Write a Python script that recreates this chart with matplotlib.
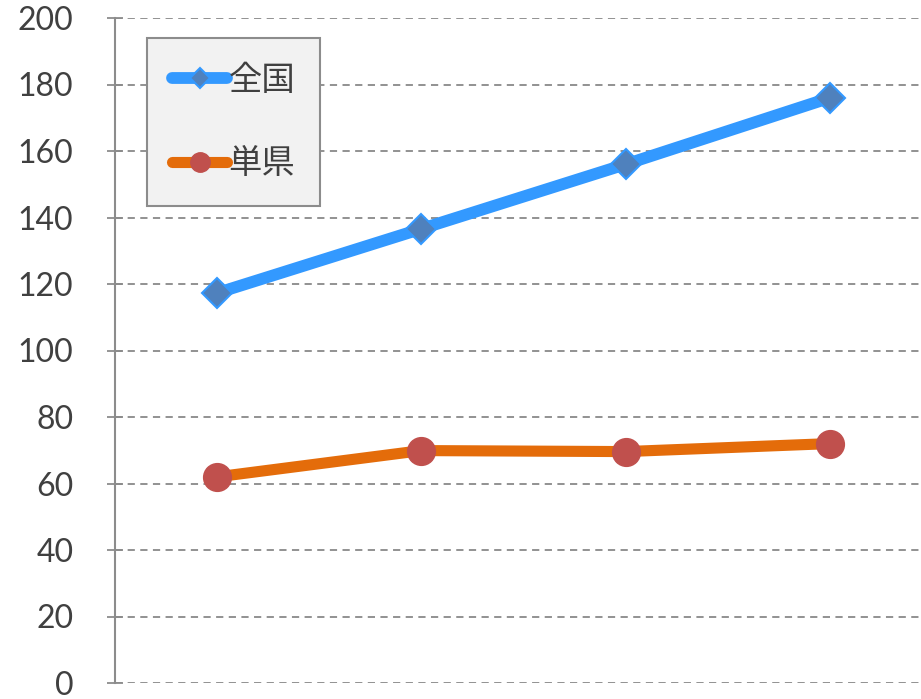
import matplotlib
matplotlib.use("Agg")
from matplotlib import pyplot as plt

plt.rcParams['font.family'] = ['Noto Sans CJK JP', 'DejaVu Sans']

categories = ['1', '2', '3', '4']
zenkoku = [117.3, 136.6, 156.0, 176.0]
tanken = [62.0, 69.9, 69.6, 72.0]
series_names = ['全国', '単県']
y_ticks = [0, 20, 40, 60, 80, 100, 120, 140, 160, 180, 200]

fig = plt.figure(figsize=(9.21, 6.99), dpi=100)
ax = fig.add_axes([115 / 921, 16 / 699, 817 / 921, 665 / 699])

x = list(range(len(categories)))
ax.plot(x, zenkoku, color='#3399FF', lw=8.5, marker='D', markersize=15,
        markerfacecolor='#4F81BD', markeredgecolor='#3399FF', markeredgewidth=1.5,
        solid_capstyle='round', label=series_names[0], zorder=3)
ax.plot(x, tanken, color='#E46C0A', lw=8, marker='o', markersize=20,
        markerfacecolor='#C0504D', markeredgecolor='#C0504D',
        solid_capstyle='round', label=series_names[1], zorder=3)

ax.set_xlim(-0.5, 3.5)
ax.set_ylim(0, 200)
ax.set_yticks(y_ticks)
ax.set_xticks([])
ax.yaxis.grid(True, color='#898989', linestyle=(0, (4, 3)), lw=1.3)
ax.set_axisbelow(True)
for s in ['top', 'right', 'bottom']:
    ax.spines[s].set_visible(False)
ax.spines['left'].set_color('#8C8C8C')
ax.spines['left'].set_linewidth(1.5)
ax.tick_params(axis='y', direction='inout', length=12, width=1.3, color='#8C8C8C',
               labelsize=23, labelcolor='#404040', pad=24)
for lab in ax.get_yticklabels():
    lab.set_fontfamily(['Lato', 'DejaVu Sans'])

leg = ax.legend(loc='upper left', bbox_to_anchor=(147 / 921, 1 - 38 / 699),
                bbox_transform=fig.transFigure, fontsize=24, labelspacing=1.45,
                handlelength=1.65, handletextpad=0.05, borderpad=0.75,
                borderaxespad=0, markerscale=0.7,
                fancybox=False, framealpha=1, labelcolor='#404040')
leg.get_frame().set_facecolor('#F2F2F2')
leg.get_frame().set_edgecolor('#8C8C8C')
leg.get_frame().set_linewidth(1.5)

fig.savefig('out.png', dpi=100)
